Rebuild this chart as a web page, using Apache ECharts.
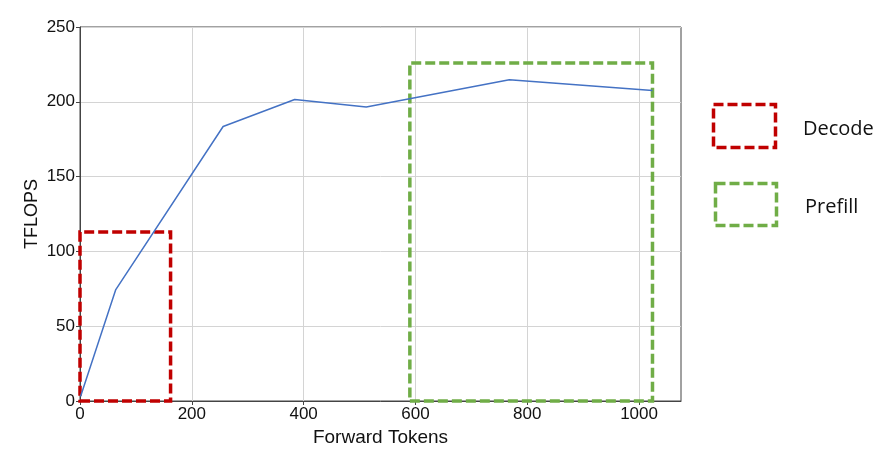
<!DOCTYPE html>
<html>
<head>
<meta charset="utf-8">
<script src="https://cdn.jsdelivr.net/npm/echarts@6/dist/echarts.min.js"></script>
<style>html,body{margin:0;padding:0;background:#fff;}#c{width:892px;height:468px;}</style>
</head>
<body>
<div id="c"></div>
<script>
var tokens = [1, 64, 256, 384, 512, 768, 1024];
var tflops = [3, 74.5, 183.5, 201.5, 196.5, 214.8, 207.5];
var xTicks = [0, 200, 400, 600, 800, 1000];
var yTicks = [0, 50, 100, 150, 200, 250];
var decodeBox = [[0, 0], [162, 113]];
var prefillBox = [[590, 0], [1024, 226]];
var legendNames = ['Decode', 'Prefill'];

var chart = echarts.init(document.getElementById('c'), null, {renderer: 'canvas'});
var axisFont = 'Liberation Sans, Arial, sans-serif';
chart.setOption({
  animation: false,
  grid: {left: 80, right: 211, top: 27, bottom: 67, show: true, borderColor: '#444', borderWidth: 1},
  xAxis: {
    type: 'value', min: 0, max: 1075, interval: 200,
    name: 'Forward Tokens', nameLocation: 'middle', nameGap: 26,
    nameTextStyle: {fontFamily: axisFont, fontSize: 19, color: '#111'},
    axisLine: {show: true, lineStyle: {color: '#444', width: 1}},
    axisTick: {show: true, length: 4, lineStyle: {color: '#444'}, customValues: xTicks},
    axisLabel: {fontFamily: axisFont, fontSize: 17, color: '#111', margin: 5, customValues: xTicks,
      formatter: function (v) { return String(v); }},
    splitLine: {show: true, lineStyle: {color: '#d4d4d4', width: 1}}
  },
  yAxis: {
    type: 'value', min: 0, max: 250, interval: 50,
    name: 'TFLOPS', nameLocation: 'middle', nameGap: 39, nameMoveOverlap: false,
    nameTextStyle: {fontFamily: axisFont, fontSize: 18, color: '#111'},
    axisLine: {show: true, lineStyle: {color: '#444', width: 1}},
    axisTick: {show: true, length: 4, lineStyle: {color: '#444'}, customValues: yTicks},
    axisLabel: {fontFamily: axisFont, fontSize: 17, color: '#111', margin: 5, customValues: yTicks,
      formatter: function (v) { return String(v); }},
    splitLine: {show: true, lineStyle: {color: '#d4d4d4', width: 1}}
  },
  series: [{
    type: 'line',
    data: tokens.map(function (t, i) { return [t, tflops[i]]; }),
    showSymbol: false,
    lineStyle: {color: '#4472c4', width: 1.5},
    z: 3
  }, {
    type: 'line', data: [], z: 5,
    markArea: {
      silent: true,
      data: [
        [{coord: decodeBox[0], itemStyle: {color: 'rgba(0,0,0,0)', borderColor: '#c00000', borderWidth: 3.5, borderType: [10, 4]}},
         {coord: decodeBox[1]}],
        [{coord: prefillBox[0], itemStyle: {color: 'rgba(0,0,0,0)', borderColor: '#70ad47', borderWidth: 3.5, borderType: [10, 4]}},
         {coord: prefillBox[1]}]
      ]
    }
  }],
  graphic: [
    {type: 'rect', shape: {x: 713.5, y: 104.5, width: 62, height: 43},
     style: {fill: 'none', stroke: '#c00000', lineWidth: 3.5, lineDash: [10, 4]}},
    {type: 'text', style: {x: 803, y: 129, text: legendNames[0], fontFamily: 'Open Sans, Noto Sans, sans-serif', fontSize: 20, fill: '#111', verticalAlign: 'middle'}},
    {type: 'rect', shape: {x: 715.5, y: 183.5, width: 61, height: 42},
     style: {fill: 'none', stroke: '#70ad47', lineWidth: 3.5, lineDash: [10, 4]}},
    {type: 'text', style: {x: 805, y: 207, text: legendNames[1], fontFamily: 'Open Sans, Noto Sans, sans-serif', fontSize: 20, fill: '#111', verticalAlign: 'middle'}}
  ]
});
</script>
</body>
</html>
